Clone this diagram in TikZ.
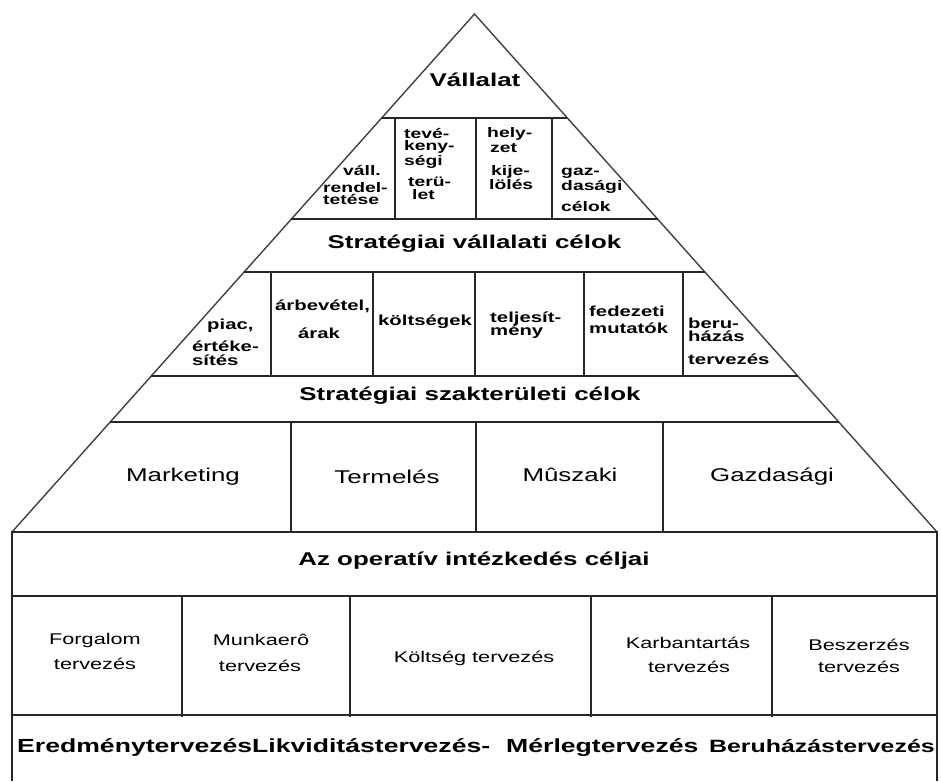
\documentclass[tikz,border=0pt]{standalone}
\usepackage{fontspec}
\setmainfont{Liberation Sans}[FakeStretch=1.4]
\usetikzlibrary{calc}
\begin{document}
\begin{tikzpicture}[x=1pt,y=-1pt,
  edge/.style={line width=1.4pt, draw=black!75},
  rule/.style={line width=1.4pt, draw=black!85},
  head/.style={font=\fontsize{18.5}{22}\selectfont\bfseries, inner sep=0pt, anchor=mid},
  area/.style={font=\fontsize{18.5}{22}\selectfont, inner sep=0pt, anchor=mid},
  tiny/.style={font=\fontsize{13.8}{16}\selectfont\bfseries, inner sep=0pt, anchor=mid west},
  small/.style={font=\fontsize{14.5}{16}\selectfont\bfseries, inner sep=0pt, anchor=mid west},
  plan/.style={font=\fontsize{15.5}{18}\selectfont, inner sep=0pt, anchor=mid},
  foot/.style={font=\fontsize{19}{22}\selectfont\bfseries, inner sep=0pt, anchor=mid west},
  ]
\useasboundingbox (0,0) rectangle (941,781);

% pyramid outline
\coordinate (apex) at (474.5,14);
\coordinate (bl) at (12,532);
\coordinate (br) at (937,532);
\draw[edge] (bl) -- (apex) -- (br);

% horizontal levels of the pyramid
\foreach \t/\n in {0.2008/a,0.3958/b,0.4981/c,0.6988/d,0.7876/e}{
  \coordinate (L\n) at ($(apex)!\t!(bl)$);
  \coordinate (R\n) at ($(apex)!\t!(br)$);
  \draw[rule] (L\n) -- (R\n);
}

% base block
\draw[rule] (12,781) -- (bl) -- (br) -- (937,781);
\draw[rule] (12,596) -- (937,596);
\draw[rule] (12,715) -- (937,715);

% cell dividers
\foreach \x in {395,476,552}{\draw[rule] (\x,118) -- (\x,219);}
\foreach \x in {271,373,475,584,683}{\draw[rule] (\x,272) -- (\x,376);}
\foreach \x in {291,476,663}{\draw[rule] (\x,422) -- (\x,532);}
\foreach \x in {182,350,591,772}{\draw[rule] (\x,596) -- (\x,717);}

% level titles
\node[head] (vall) at (475,84) {Vállalat};
\node[head] (svc) at (474.5,246) {Stratégiai vállalati célok};
\node[head] (ssc) at (470,398) {Stratégiai szakterületi célok};
\node[head] (oper) at (474,563) {Az operatív intézkedés céljai};

% corporate cells
\node[tiny] (a1) at (343,173) {váll.};
\node[tiny] (a2) at (323,190) {rendel-};
\node[tiny] (a3) at (323,202) {tetése};
\node[tiny] (b1) at (404,136) {tevé-};
\node[tiny] (b2) at (404,148) {keny-};
\node[tiny] (b3) at (404,163) {ségi};
\node[tiny] (b4) at (408,184) {terü-};
\node[tiny] (b5) at (412,197) {let};
\node[tiny] (c1) at (487,135) {hely-};
\node[tiny] (c2) at (490,150) {zet};
\node[tiny] (c3) at (491,173) {kije-};
\node[tiny] (c4) at (489,187) {lölés};
\node[tiny] (d1) at (561,173) {gaz-};
\node[tiny] (d2) at (561,188) {dasági};
\node[tiny] (d3) at (561,209) {célok};

% strategic cells
\node[small] (p1) at (207,327) {piac,};
\node[small] (p2) at (192,349) {értéke-};
\node[small] (p3) at (192,363) {sítés};
\node[small] (q1) at (275,308) {árbevétel,};
\node[small] (q2) at (298,336) {árak};
\node[small] (k1) at (378,323) {költségek};
\node[small] (t1) at (490,320) {teljesít-};
\node[small] (t2) at (490,333) {mény};
\node[small] (f1) at (589,314) {fedezeti};
\node[small] (f2) at (589,331) {mutatók};
\node[small] (h1) at (688,326) {beru-};
\node[small] (h2) at (688,339) {házás};
\node[small] (h3) at (688,362) {tervezés};

% functional areas
\node[area] (mkt) at (183,479) {Marketing};
\node[area] (ter) at (387,481) {Termelés};
\node[area] (mus) at (570,479) {Mûszaki};
\node[area] (gaz) at (772,479) {Gazdasági};

% operative plans
\node[plan] (fo1) at (95,642) {Forgalom};
\node[plan] (fo2) at (95,667) {tervezés};
\node[plan] (mu1) at (261,643) {Munkaerô};
\node[plan] (mu2) at (260,669) {tervezés};
\node[plan] (ko1) at (474,660) {Költség tervezés};
\node[plan] (ka1) at (688,646) {Karbantartás};
\node[plan] (ka2) at (689,670) {tervezés};
\node[plan] (be1) at (859,648) {Beszerzés};
\node[plan] (be2) at (859,670) {tervezés};

% summary plans
\node[foot] (er) at (17,750) {Eredménytervezés};
\node[foot] (li) at (252,750) {Likviditástervezés-};
\node[foot] (me) at (506,750) {Mérlegtervezés};
\node[foot, anchor=mid east, font=\fontsize{17.8}{22}\selectfont\bfseries] (bh) at (935,750) {Beruházástervezés};
\end{tikzpicture}
\end{document}
